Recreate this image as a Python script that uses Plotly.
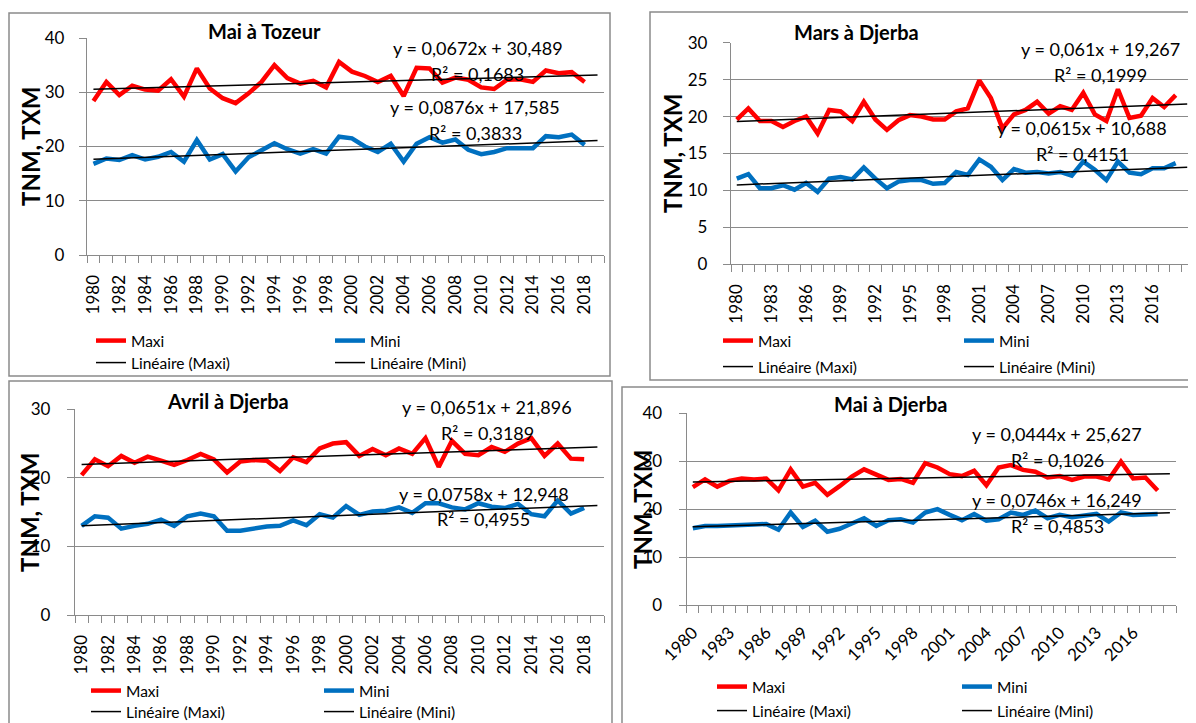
import plotly.graph_objects as go

# ---------------- data ----------------
years = list(range(1980, 2019))          # observed years
trend_years = list(range(1980, 2020))    # category span used by Excel trend lines

tozeur_mai_maxi = [28.4, 31.9, 29.5, 31.2, 30.5, 30.3, 32.4, 29.2, 34.4, 30.7,
                   28.9, 28.0, 29.8, 31.9, 35.0, 32.6, 31.6, 32.1, 30.9, 35.6,
                   33.8, 33.0, 31.9, 33.0, 29.3, 34.5, 34.4, 31.8, 32.7, 32.3,
                   30.9, 30.6, 32.3, 32.4, 31.9, 34.0, 33.5, 33.7, 31.9]
tozeur_mai_mini = [16.8, 17.8, 17.5, 18.4, 17.6, 18.1, 19.0, 17.2, 21.2, 17.6,
                   18.6, 15.4, 18.0, 19.4, 20.6, 19.5, 18.7, 19.5, 18.7, 21.8,
                   21.5, 20.0, 19.0, 20.5, 17.2, 20.5, 21.7, 20.7, 21.3, 19.4,
                   18.6, 19.0, 19.7, 19.7, 19.7, 21.9, 21.7, 22.2, 20.3]

djerba_mars_maxi = [19.6, 21.1, 19.4, 19.4, 18.6, 19.4, 20.0, 17.7, 20.9, 20.7,
                    19.4, 22.0, 19.6, 18.2, 19.5, 20.2, 20.0, 19.6, 19.6, 20.7,
                    21.1, 24.9, 22.5, 18.4, 20.3, 20.9, 22.0, 20.4, 21.4, 20.9,
                    23.2, 20.3, 19.4, 23.7, 19.8, 20.1, 22.5, 21.3, 22.9]
djerba_mars_mini = [11.6, 12.2, 10.3, 10.3, 10.7, 10.1, 11.0, 9.8, 11.6, 11.8,
                    11.5, 13.1, 11.6, 10.3, 11.2, 11.4, 11.4, 10.9, 11.0, 12.5,
                    12.1, 14.2, 13.2, 11.4, 12.9, 12.4, 12.5, 12.3, 12.5, 12.0,
                    13.9, 12.8, 11.4, 13.9, 12.4, 12.2, 13.0, 13.0, 13.7]

djerba_avril_maxi = [20.4, 22.7, 21.7, 23.2, 22.2, 23.1, 22.5, 21.9, 22.6, 23.5,
                     22.7, 20.8, 22.4, 22.6, 22.5, 21.0, 23.0, 22.3, 24.3, 25.0,
                     25.2, 23.2, 24.2, 23.3, 24.3, 23.5, 25.8, 21.6, 25.4, 23.5,
                     23.3, 24.5, 23.8, 25.0, 25.8, 23.2, 25.0, 22.8, 22.7]
djerba_avril_mini = [13.0, 14.4, 14.2, 12.6, 13.0, 13.3, 13.9, 13.0, 14.4, 14.8,
                     14.4, 12.3, 12.3, 12.6, 12.9, 13.0, 13.8, 13.1, 14.7, 14.2,
                     15.9, 14.6, 15.1, 15.2, 15.7, 14.9, 16.3, 16.3, 15.7, 15.4,
                     16.3, 15.8, 15.6, 16.2, 14.7, 14.4, 16.7, 14.8, 15.6]

djerba_mai_maxi = [24.6, 26.2, 24.7, 25.9, 26.4, 26.2, 26.4, 23.9, 28.3, 24.7,
                   25.5, 23.0, 24.8, 26.8, 28.3, 27.1, 26.1, 26.3, 25.5, 29.6,
                   28.7, 27.3, 26.9, 28.0, 25.0, 28.7, 29.2, 28.2, 27.8, 26.6,
                   26.9, 26.1, 26.8, 26.8, 26.2, 29.9, 26.4, 26.6, 23.9]
djerba_mai_mini = [16.0, 16.5, 16.5, 16.5, 16.7, 16.8, 16.9, 15.7, 19.3, 16.3,
                   17.6, 15.3, 15.9, 17.0, 18.1, 16.5, 17.7, 17.9, 17.2, 19.3,
                   20.0, 18.8, 17.7, 19.0, 17.6, 17.9, 19.3, 18.8, 19.7, 18.1,
                   18.8, 18.3, 18.6, 19.0, 17.4, 19.3, 18.8, 18.8, 19.0]

# trend equations shown on the charts: [maxi, mini]
slopes = {"tozeur_mai": [0.0672, 0.0876], "djerba_mars": [0.061, 0.0615],
          "djerba_avril": [0.0651, 0.0758], "djerba_mai": [0.0444, 0.0746]}
intercepts = {"tozeur_mai": [30.489, 17.585], "djerba_mars": [19.267, 10.688],
              "djerba_avril": [21.896, 12.948], "djerba_mai": [25.627, 16.249]}
r2 = {"tozeur_mai": ["0,1683", "0,3833"], "djerba_mars": ["0,1999", "0,4151"],
      "djerba_avril": ["0,3189", "0,4955"], "djerba_mai": ["0,1026", "0,4853"]}

titles = ["Mai à Tozeur", "Mars à Djerba", "Avril à Djerba", "Mai à Djerba"]
y_title = "TNM, TXM"
legend_names = ["Maxi", "Mini", "Linéaire (Maxi)", "Linéaire (Mini)"]

# ---------------- styling / layout ----------------
# The page body has an 8px margin, so the figure is sized to fill the rest of the
# 1196x723 window and all positions below are given in window pixels.
OFF = 8
W, H = 1196 - OFF, 723 - OFF
RED = "#FF0000"
BLUE = "#0070C0"
GRAY = "#8A8A8A"
FONT = "Lato, 'Open Sans', sans-serif"


def px(x):
    return (x - OFF) / W


def py(y):
    return 1 - (y - OFF) / H


panels = [
    dict(key="tozeur_mai", maxi=tozeur_mai_maxi, mini=tozeur_mai_mini, title=titles[0],
         plot=(87, 604, 38, 255), ymax=40, dtick=10, tickstep=2, angle=-90,
         ystand=11, xstand=12, title_xy=(264, 31), ytitle_xy=(30, 147),
         eq=[(478, 48), (477, 74), (475, 107), (475, 133)],
         leg=[(137, 341), (137, 363)], legspace=234,
         box=(9, 13, 610, 376)),
    dict(key="djerba_mars", maxi=djerba_mars_maxi, mini=djerba_mars_mini, title=titles[1],
         plot=(731, 1193, 42.7, 264.3), ymax=30, dtick=5, tickstep=3, angle=-90,
         ystand=12, xstand=12, title_xy=(856, 32), ytitle_xy=(672, 154),
         eq=[(1100, 49), (1100, 75), (1082, 128), (1082, 154)],
         leg=[(764, 341), (764, 367)], legspace=236,
         box=(650, 12, 1210, 380)),
    dict(key="djerba_avril", maxi=djerba_avril_maxi, mini=djerba_avril_mini, title=titles[2],
         plot=(75, 604, 409.3, 615), ymax=30, dtick=10, tickstep=2, angle=-90,
         ystand=13, xstand=12, title_xy=(228, 401), ytitle_xy=(30, 513),
         eq=[(487, 407), (487, 433), (484, 494), (483, 519)],
         leg=[(132, 691), (132, 712)], legspace=228,
         box=(9, 381, 612, 740)),
    dict(key="djerba_mai", maxi=djerba_mai_maxi, mini=djerba_mai_mini, title=titles[3],
         plot=(686.7, 1176, 413.3, 605), ymax=40, dtick=10, tickstep=3, angle=-45,
         ystand=13, xstand=10, title_xy=(891, 404), ytitle_xy=(642, 510),
         eq=[(1057, 434), (1057, 460), (1057, 500), (1057, 526)],
         leg=[(758, 687), (758, 711)], legspace=240,
         box=(622, 387, 1210, 740)),
]

fig = go.Figure()
layout = dict(width=W, height=H, margin=dict(l=0, r=0, t=0, b=0, autoexpand=False),
              paper_bgcolor="white", plot_bgcolor="rgba(0,0,0,0)",
              font=dict(family=FONT, color="black", size=17),
              showlegend=True, annotations=[], shapes=[])

for k, p in enumerate(panels):
    n = k + 1
    xa = "x" if n == 1 else f"x{n}"
    ya = "y" if n == 1 else f"y{n}"
    xkey = "xaxis" if n == 1 else f"xaxis{n}"
    ykey = "yaxis" if n == 1 else f"yaxis{n}"
    la = "legend" if k == 0 else f"legend{2 * k + 1}"
    lb = f"legend{2 * k + 2}"
    a_max, a_min = slopes[p["key"]]
    b_max, b_min = intercepts[p["key"]]
    idx = list(range(1, len(trend_years) + 1))

    fig.add_trace(go.Scatter(x=years, y=p["maxi"], name=legend_names[0], mode="lines",
                             line=dict(color=RED, width=4.5), xaxis=xa, yaxis=ya, legend=la))
    fig.add_trace(go.Scatter(x=years, y=p["mini"], name=legend_names[1], mode="lines",
                             line=dict(color=BLUE, width=4.5), xaxis=xa, yaxis=ya, legend=la))
    fig.add_trace(go.Scatter(x=trend_years, y=[a_max * i + b_max for i in idx],
                             name=legend_names[2], mode="lines",
                             line=dict(color="black", width=1.5), xaxis=xa, yaxis=ya, legend=lb))
    fig.add_trace(go.Scatter(x=trend_years, y=[a_min * i + b_min for i in idx],
                             name=legend_names[3], mode="lines",
                             line=dict(color="black", width=1.5), xaxis=xa, yaxis=ya, legend=lb))

    x0, x1, yt, yb = p["plot"]
    tickyears = list(range(1980, 2019, p["tickstep"]))
    layout[xkey] = dict(
        domain=[px(x0), px(x1)], anchor=ya, range=[1979.5, 2019.5],
        tickmode="array", tickvals=tickyears, ticktext=[str(v) for v in tickyears],
        tickangle=p["angle"], ticks="", showline=True, linecolor=GRAY, linewidth=1.3,
        showgrid=False, zeroline=False, fixedrange=True,
        ticklabelstandoff=p["xstand"],
        tickfont=dict(family=FONT, size=17, color="black"),
        minor=dict(tickmode="array", tickvals=[v - 0.5 for v in trend_years] + [2019.5],
                   ticks="outside", ticklen=7, tickcolor=GRAY, tickwidth=1.3, showgrid=False),
    )
    layout[ykey] = dict(
        domain=[py(yb), py(yt)], anchor=xa, range=[0, p["ymax"]], tick0=0, dtick=p["dtick"],
        showgrid=True, gridcolor=GRAY, gridwidth=1.3, showline=True, linecolor=GRAY,
        linewidth=1.3, ticks="outside", ticklen=7, tickcolor=GRAY, tickwidth=1.3,
        zeroline=False, fixedrange=True, ticklabelstandoff=p["ystand"],
        tickfont=dict(family=FONT, size=17, color="black"),
    )

    # legends: one per row, two columns (x given as the start of the first label)
    for (lx, ly), lname in zip(p["leg"], [la, lb]):
        layout[lname] = dict(orientation="h", x=px(lx - 46), xanchor="left", y=py(ly),
                             yanchor="middle", bgcolor="rgba(0,0,0,0)", borderwidth=0,
                             font=dict(family=FONT, size=15.5, color="black"),
                             entrywidth=p["legspace"] - 40, entrywidthmode="pixels",
                             tracegroupgap=0, itemclick=False, itemdoubleclick=False)

    # chart title
    tx, ty = p["title_xy"]
    layout["annotations"].append(dict(text=f"<b>{p['title']}</b>", x=px(tx), y=py(ty),
                                      xref="paper", yref="paper", showarrow=False,
                                      xanchor="center", yanchor="middle",
                                      font=dict(family=FONT, size=20, color="black")))
    # y-axis title
    ax_, ay_ = p["ytitle_xy"]
    layout["annotations"].append(dict(text=f"<b>{y_title}</b>", x=px(ax_), y=py(ay_),
                                      xref="paper", yref="paper", showarrow=False,
                                      textangle=-90, xanchor="center", yanchor="middle",
                                      font=dict(family=FONT, size=24, color="black")))
    # trend equations
    eq_texts = [
        f"y = {str(a_max).replace('.', ',')}x + {str(b_max).replace('.', ',')}",
        f"R² = {r2[p['key']][0]}",
        f"y = {str(a_min).replace('.', ',')}x + {str(b_min).replace('.', ',')}",
        f"R² = {r2[p['key']][1]}",
    ]
    for (ex, ey), t in zip(p["eq"], eq_texts):
        layout["annotations"].append(dict(text=t, x=px(ex), y=py(ey), xref="paper",
                                          yref="paper", showarrow=False,
                                          xanchor="center", yanchor="middle",
                                          font=dict(family=FONT, size=18, color="black")))
    # chart-area border
    bx0, by0, bx1, by1 = p["box"]
    layout["shapes"].append(dict(type="rect", xref="paper", yref="paper",
                                 x0=px(bx0), x1=px(bx1), y0=py(by1), y1=py(by0),
                                 line=dict(color=GRAY, width=1.5), fillcolor="rgba(0,0,0,0)",
                                 layer="below"))

fig.update_layout(**layout)
fig.write_html("out.html")
